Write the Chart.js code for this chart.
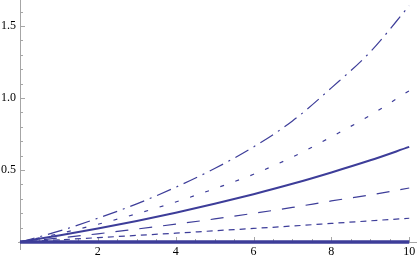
<!DOCTYPE html>
<html>
<head>
<meta charset="utf-8">
<script src="https://cdn.jsdelivr.net/npm/chart.js@4"></script>
<style>
  html, body { margin: 0; padding: 0; background: #fff; }
  canvas { display: block; }
</style>
</head>
<body>
<canvas id="plot" width="417" height="261"></canvas>
<script>
// valores
const xValues = [0, 1, 2, 3, 4, 5, 6, 7, 8, 9, 10];
const curveDashDot = [0, 0.075, 0.165, 0.265, 0.38, 0.51, 0.66, 0.84, 1.07, 1.32, 1.64];
const curveDotted = [0, 0.058, 0.123, 0.196, 0.278, 0.37, 0.47, 0.59, 0.73, 0.88, 1.05];
const curveSolid = [0, 0.045, 0.093, 0.146, 0.203, 0.265, 0.332, 0.404, 0.483, 0.567, 0.66];
const curveLongDash = [0, 0.028, 0.057, 0.09, 0.124, 0.16, 0.199, 0.24, 0.285, 0.327, 0.375];
const curveShortDash = [0, 0.015, 0.03, 0.046, 0.061, 0.078, 0.094, 0.111, 0.129, 0.147, 0.165];
const curveZero = [0, 0, 0, 0, 0, 0, 0, 0, 0, 0, 0];

const xTickLabels = [2, 4, 6, 8, 10];
const yTickLabels = [0.5, 1.0, 1.5];
const xMinorTicks = [0.5, 1, 1.5, 2.5, 3, 3.5, 4.5, 5, 5.5, 6.5, 7, 7.5, 8.5, 9, 9.5];
const yMinorTicks = [0.1, 0.2, 0.3, 0.4, 0.6, 0.7, 0.8, 0.9, 1.1, 1.2, 1.3, 1.4, 1.6];

const lineColor = 'rgb(61, 61, 153)';
const axisColor = '#a6a6a6';
const labelFont = { family: "'Liberation Serif', 'Times New Roman', serif", size: 12 };

const toPoints = (ys) => xValues.map((x, i) => ({ x: x, y: ys[i] }));

const serie = (ys, width, dash) => ({
    data: toPoints(ys),
    borderColor: lineColor,
    borderWidth: width,
    borderDash: dash,
    pointRadius: 0,
    fill: false,
    cubicInterpolationMode: 'monotone',
    clip: false
});

// ejes estilo Mathematica con marcas hacia dentro
const axesPlugin = {
    id: 'axesPlugin',
    beforeDatasetsDraw(chart) {
        const { ctx, scales: { x, y } } = chart;
        const x0 = x.getPixelForValue(0);
        const y0 = y.getPixelForValue(0);
        ctx.save();
        ctx.strokeStyle = axisColor;
        ctx.lineWidth = 1;
        ctx.beginPath();
        ctx.moveTo(x.left - 2, y0 + 0.5);
        ctx.lineTo(chart.width, y0 + 0.5);
        ctx.moveTo(x0 + 0.5, y.top);
        ctx.lineTo(x0 + 0.5, y.bottom + 8);
        xTickLabels.forEach(v => {
            const px = Math.round(x.getPixelForValue(v)) + 0.5;
            ctx.moveTo(px, y0);
            ctx.lineTo(px, y0 - 5);
        });
        xMinorTicks.forEach(v => {
            const px = Math.round(x.getPixelForValue(v)) + 0.5;
            ctx.moveTo(px, y0);
            ctx.lineTo(px, y0 - 3);
        });
        yTickLabels.forEach(v => {
            const py = Math.round(y.getPixelForValue(v)) + 0.5;
            ctx.moveTo(x0, py);
            ctx.lineTo(x0 + 5, py);
        });
        yMinorTicks.forEach(v => {
            const py = Math.round(y.getPixelForValue(v)) + 0.5;
            ctx.moveTo(x0, py);
            ctx.lineTo(x0 + 3, py);
        });
        ctx.stroke();
        ctx.restore();
    }
};

const drawChart = () => {
    new Chart(document.getElementById('plot'), {
        type: 'line',
        data: {
            datasets: [
                serie(curveZero, 3.5, []),
                serie(curveShortDash, 1.2, [6, 5]),
                serie(curveLongDash, 1.2, [13, 11]),
                serie(curveSolid, 2, []),
                serie(curveDotted, 1.2, [4, 12]),
                serie(curveDashDot, 1.2, [15, 6, 2, 6])
            ]
        },
        options: {
            responsive: false,
            animation: false,
            devicePixelRatio: 1,
            layout: { padding: 0 },
            plugins: { legend: { display: false }, tooltip: { enabled: false } },
            scales: {
                x: {
                    type: 'linear',
                    min: 0,
                    max: 10.2,
                    grid: { display: false, drawTicks: false },
                    border: { display: false },
                    afterFit: (s) => { s.height = 19; s.paddingLeft = 0; s.paddingRight = 0; },
                    afterBuildTicks: (s) => { s.ticks = xTickLabels.map(v => ({ value: v })); },
                    ticks: {
                        autoSkip: false,
                        maxRotation: 0,
                        padding: 3,
                        color: '#000',
                        font: labelFont,
                        callback: (v) => String(v)
                    }
                },
                y: {
                    type: 'linear',
                    min: 0,
                    max: 1.68,
                    grid: { display: false, drawTicks: false },
                    border: { display: false },
                    afterFit: (s) => { s.width = 20; s.paddingTop = 0; s.paddingBottom = 0; },
                    afterBuildTicks: (s) => { s.ticks = yTickLabels.map(v => ({ value: v })); },
                    ticks: {
                        autoSkip: false,
                        padding: 4,
                        color: '#000',
                        font: labelFont,
                        callback: (v) => v.toFixed(1)
                    }
                }
            }
        },
        plugins: [axesPlugin]
    });
};

document.fonts.load('12px "Liberation Serif"').then(drawChart, drawChart);
</script>
</body>
</html>
